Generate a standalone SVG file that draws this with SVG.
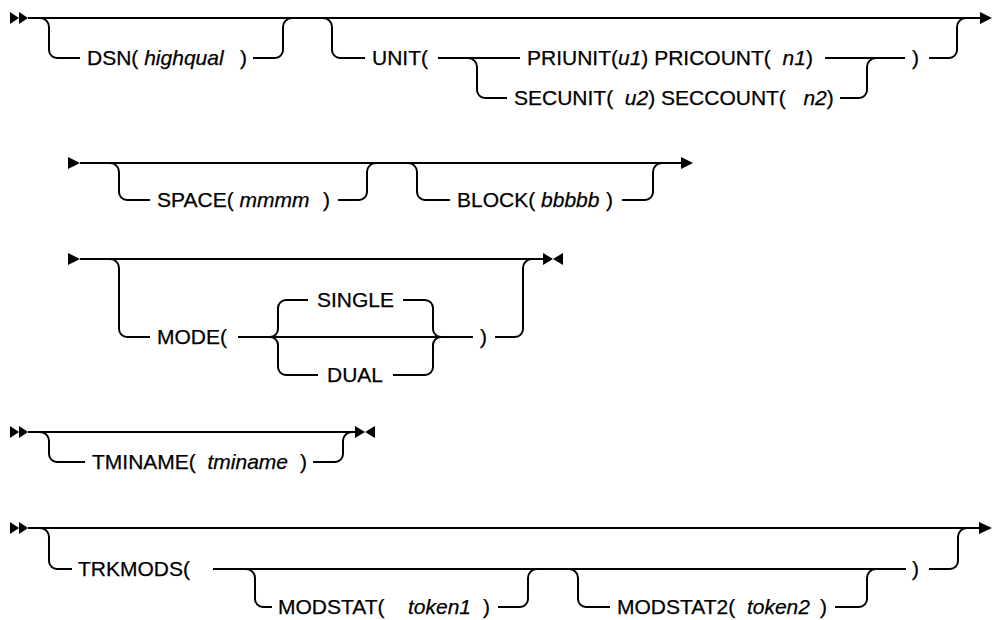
<svg xmlns="http://www.w3.org/2000/svg" width="992" height="620" viewBox="0 0 992 620">
<style>
.t{font-family:"Liberation Sans",Arial,sans-serif;font-size:21px;fill:#000;stroke:#000;stroke-width:0.25;white-space:pre}
.i{font-style:italic}
.ln{fill:none;stroke:#000;stroke-width:2}
.ar{fill:#000}
</style>
<rect width="992" height="620" fill="#fff"/>
<g id="connectors" class="ln">
<!-- row 1 -->
<path d="M28,18 H981"/>
<path d="M40,18 a9,9 0 0 1 9,9 V50 a8,8 0 0 0 8,8 H80"/>
<path d="M253,58 H275 a8,8 0 0 0 8,-8 V27 a9,9 0 0 1 9,-9"/>
<path d="M323,18 a9,9 0 0 1 9,9 V50 a8,8 0 0 0 8,8 H365"/>
<path d="M438,58 H520"/>
<path d="M468,58 a9,9 0 0 1 9,9 V90 a8,8 0 0 0 8,8 H507"/>
<path d="M825,58 H905"/>
<path d="M840,98 H859 a8,8 0 0 0 8,-8 V67 a9,9 0 0 1 9,-9"/>
<path d="M929,58 H949 a8,8 0 0 0 8,-8 V27 a9,9 0 0 1 9,-9"/>
<!-- row 2 -->
<path d="M80,163 H681"/>
<path d="M110,163 a9,9 0 0 1 9,9 V192 a8,8 0 0 0 8,8 H150"/>
<path d="M338,200 H359 a8,8 0 0 0 8,-8 V172 a9,9 0 0 1 9,-9"/>
<path d="M408,163 a9,9 0 0 1 9,9 V192 a8,8 0 0 0 8,8 H450"/>
<path d="M622,200 H645 a8,8 0 0 0 8,-8 V172 a9,9 0 0 1 9,-9"/>
<!-- row 3 -->
<path d="M80,259 H543"/>
<path d="M110,259 a9,9 0 0 1 9,9 V329 a8,8 0 0 0 8,8 H150"/>
<path d="M238,337 H473"/>
<path d="M270,337 a8,8 0 0 0 8,-8 V308 a8,8 0 0 1 8,-8 H308"/>
<path d="M270,337 a8,8 0 0 1 8,8 V367 a8,8 0 0 0 8,8 H318"/>
<path d="M403,300 H425 a8,8 0 0 1 8,8 V329 a8,8 0 0 0 8,8"/>
<path d="M393,375 H425 a8,8 0 0 0 8,-8 V345 a8,8 0 0 1 8,-8"/>
<path d="M495,337 H515 a8,8 0 0 0 8,-8 V268 a9,9 0 0 1 9,-9"/>
<!-- row 4 -->
<path d="M28,432 H355"/>
<path d="M40,432 a9,9 0 0 1 9,9 V454 a8,8 0 0 0 8,8 H85"/>
<path d="M313,462 H335 a8,8 0 0 0 8,-8 V441 a9,9 0 0 1 9,-9"/>
<!-- row 5 -->
<path d="M28,528 H979"/>
<path d="M40,528 a9,9 0 0 1 9,9 V561 a8,8 0 0 0 8,8 H72"/>
<path d="M213,569 H906"/>
<path d="M929,569 H950 a8,8 0 0 0 8,-8 V537 a9,9 0 0 1 9,-9"/>
<path d="M246,569 a9,9 0 0 1 9,9 V599 a8,8 0 0 0 8,8 H272"/>
<path d="M498,607 H520 a8,8 0 0 0 8,-8 V578 a9,9 0 0 1 9,-9"/>
<path d="M569,569 a9,9 0 0 1 9,9 V599 a8,8 0 0 0 8,8 H610"/>
<path d="M835,607 H859 a8,8 0 0 0 8,-8 V578 a9,9 0 0 1 9,-9"/>
</g>
<g id="markers" class="ar">
<polygon points="10,12 19,18 10,24"/><polygon points="19,12 28,18 19,24"/>
<polygon points="980,12 992,18 980,24"/>
<polygon points="68,157 80,163 68,169"/>
<polygon points="681,157 693,163 681,169"/>
<polygon points="68,253 80,259 68,265"/>
<polygon points="543,253 553,259 543,265"/><polygon points="563,253 553,259 563,265"/>
<polygon points="10,426 19,432 10,438"/><polygon points="19,426 28,432 19,438"/>
<polygon points="355,426 365,432 355,438"/><polygon points="375,426 365,432 375,438"/>
<polygon points="10,522 19,528 10,534"/><polygon points="19,522 28,528 19,534"/>
<polygon points="979,522 992,528 979,534"/>
</g>
<g id="dsn"><text class="t" x="87" y="65">DSN( <tspan class="i">highqual</tspan></text><text class="t" x="240" y="65">)</text></g>
<g id="unit"><text class="t" x="372" y="65">UNIT(</text></g>
<g id="priunit"><text class="t" x="527" y="65">PRIUNIT(<tspan class="i">u1</tspan>) PRICOUNT(  <tspan class="i">n1</tspan>)</text></g>
<g id="secunit"><text class="t" x="514" y="105">SECUNIT(  <tspan class="i">u2</tspan>) SECCOUNT(   <tspan class="i">n2</tspan>)</text></g>
<g id="unit-close"><text class="t" x="912" y="65">)</text></g>
<g id="space"><text class="t" x="157" y="207">SPACE( <tspan class="i">mmmm</tspan></text><text class="t" x="323" y="207">)</text></g>
<g id="block"><text class="t" x="457" y="207">BLOCK( <tspan class="i">bbbbb</tspan></text><text class="t" x="606" y="207">)</text></g>
<g id="mode"><text class="t" x="157" y="344">MODE(</text></g>
<g id="single"><text class="t" x="317" y="307">SINGLE</text></g>
<g id="dual"><text class="t" x="327" y="382">DUAL</text></g>
<g id="mode-close"><text class="t" x="480" y="344">)</text></g>
<g id="tminame"><text class="t" x="92" y="469">TMINAME(  <tspan class="i">tminame</tspan></text><text class="t" x="300" y="469">)</text></g>
<g id="trkmods"><text class="t" x="78" y="576">TRKMODS(</text></g>
<g id="modstat"><text class="t" x="278" y="614">MODSTAT( <tspan class="i" x="408">token1</tspan></text><text class="t" x="483" y="614">)</text></g>
<g id="modstat2"><text class="t" x="617" y="614">MODSTAT2(  <tspan class="i">token2</tspan></text><text class="t" x="820" y="614">)</text></g>
<g id="trkmods-close"><text class="t" x="912" y="576">)</text></g>
</svg>
